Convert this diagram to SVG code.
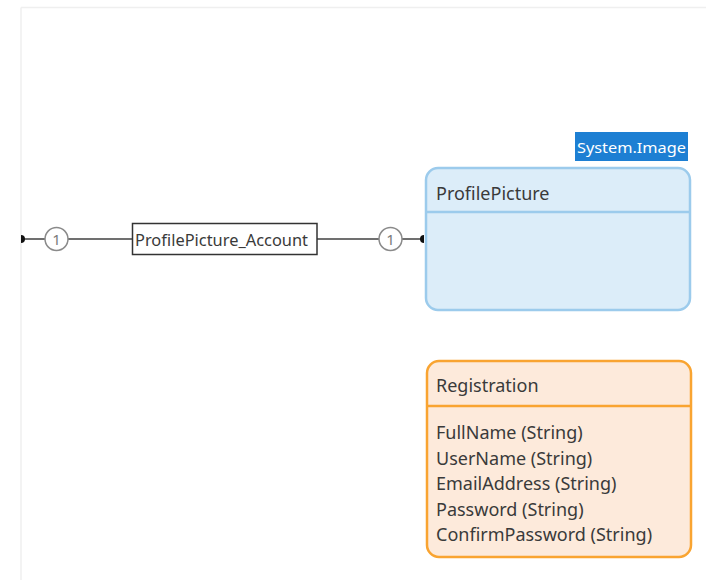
<svg xmlns="http://www.w3.org/2000/svg" width="706" height="580" viewBox="0 0 706 580">
<style>
  text { font-family: "Noto Sans", "Open Sans", "DejaVu Sans", sans-serif; fill: #3a3a3a; }
  .conn { stroke: #404040; stroke-width: 1.5; fill: none; }
  .mult { fill: #ffffff; stroke: #8a8a8a; stroke-width: 1.5; }
  .multt { font-size: 15px; fill: #7a7a7a; text-anchor: middle; }
  .end { fill: #111111; }
  .ent-blue { fill: #dcedf9; stroke: #9ccbec; stroke-width: 2.5; }
  .div-blue { stroke: #9ccbec; stroke-width: 2.5; }
  .ent-orange { fill: #fdeadb; stroke: #f9a431; stroke-width: 2.5; }
  .div-orange { stroke: #f9a431; stroke-width: 2.5; }
  .title { font-size: 18px; }
  .attr { font-size: 18px; }
</style>
<rect x="0" y="0" width="706" height="580" fill="#ffffff"/>
<path d="M21 7.5 H706 M21 7.5 V580" stroke="#efefef" stroke-width="1.5" fill="none"/>

<g id="connectors">
  <line class="conn" x1="23" y1="239" x2="45" y2="239"/>
  <line class="conn" x1="68" y1="239" x2="132" y2="239"/>
  <line class="conn" x1="317" y1="239" x2="379" y2="239"/>
  <line class="conn" x1="402" y1="239" x2="423" y2="239"/>
  <path class="end" d="M21 235 A4 4 0 0 1 21 243 Z"/>
  <path class="end" d="M424 235 A4 4 0 0 0 424 243 Z"/>
  <circle class="mult" cx="56.5" cy="239" r="11.5"/>
  <text class="multt" x="56.5" y="244.5">1</text>
  <circle class="mult" cx="390.5" cy="239" r="11.5"/>
  <text class="multt" x="390.5" y="244.5">1</text>
</g>

<g id="ProfilePicture_Account">
  <rect x="132.5" y="223.5" width="184.5" height="31" fill="#ffffff" stroke="#333333" stroke-width="1.5"/>
  <text x="135" y="245.5" font-size="16" textLength="173" lengthAdjust="spacingAndGlyphs">ProfilePicture_Account</text>
</g>

<g id="SystemImage">
  <rect x="575" y="132" width="113" height="29" fill="#1d7fd3"/>
  <text x="631.5" y="152.5" font-size="15" text-anchor="middle" style="fill:#ffffff" textLength="109" lengthAdjust="spacingAndGlyphs">System.Image</text>
</g>

<g id="ProfilePicture">
  <rect class="ent-blue" x="426" y="168" width="264" height="142" rx="12"/>
  <line class="div-blue" x1="426" y1="212" x2="690" y2="212"/>
  <text class="title" x="436" y="200">ProfilePicture</text>
</g>

<g id="Registration">
  <rect class="ent-orange" x="427" y="361" width="264" height="196" rx="12"/>
  <line class="div-orange" x1="427" y1="406" x2="691" y2="406"/>
  <text class="title" x="436" y="392">Registration</text>
  <text class="attr" x="436" y="439">FullName (String)</text>
  <text class="attr" x="436" y="464.5">UserName (String)</text>
  <text class="attr" x="436" y="490">EmailAddress (String)</text>
  <text class="attr" x="436" y="516">Password (String)</text>
  <text class="attr" x="436" y="541">ConfirmPassword (String)</text>
</g>
</svg>
